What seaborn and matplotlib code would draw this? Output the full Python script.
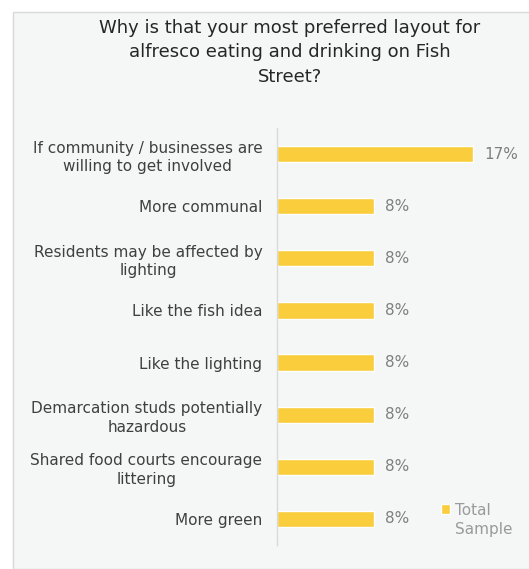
import matplotlib
matplotlib.use("Agg")
import matplotlib.pyplot as plt
import seaborn as sns
import pandas as pd
from matplotlib.patches import Rectangle

categories = [
    "If community / businesses are\nwilling to get involved",
    "More communal",
    "Residents may be affected by\nlighting",
    "Like the fish idea",
    "Like the lighting",
    "Demarcation studs potentially\nhazardous",
    "Shared food courts encourage\nlittering",
    "More green",
]
values = [16.7, 8.3, 8.3, 8.3, 8.3, 8.3, 8.3, 8.3]
series_name = "Total\nSample"
title = "Why is that your most preferred layout for\nalfresco eating and drinking on Fish\nStreet?"

sns.set_theme(style="white")
plt.rcParams['font.family'] = ['DejaVu Sans']

df = pd.DataFrame({"category": categories, "value": values, "series": series_name})

fig = plt.figure(figsize=(5.29, 5.69), dpi=100)
fig.patch.set_facecolor("white")
panel = Rectangle((13 / 529, 0), 1 - 13 / 529 + 0.01, 1 - 12 / 569, transform=fig.transFigure,
                  facecolor="#f5f6f6", edgecolor="#d9d9d9", linewidth=1.0, zorder=-10)
fig.patches.append(panel)

ax = fig.add_axes([277 / 529, 1 - 545 / 569, 1 - 277 / 529, (545 - 128) / 569])
ax.set_facecolor("none")
ax.set_zorder(5)

bar_color = "#FACD3C"
sns.barplot(data=df, y="category", x="value", hue="series", palette=[bar_color],
            orient="h", width=0.31, ax=ax, saturation=1)

for cont in ax.containers:
    ax.bar_label(cont, labels=[f"{v:.0f}%" for v in values], padding=8,
                 color="#7f7f7f", fontsize=11)

ax.set_xlim(0, 21.5)
ax.set_ylim(7.5, -0.5)
ax.set_xlabel("")
ax.set_ylabel("")
ax.set_xticks([])
ax.tick_params(axis="y", length=0, pad=10.5, labelsize=11, labelcolor="#404040")
for lbl in ax.get_yticklabels():
    lbl.set_multialignment("center")
    lbl.set_linespacing(1.3)
for s in ["top", "right", "bottom"]:
    ax.spines[s].set_visible(False)
ax.spines["left"].set_color("#d9d9d9")
ax.spines["left"].set_linewidth(1.0)

leg = ax.legend(loc="upper left", bbox_to_anchor=((441 - 277) / 252, (545 - 503) / 417),
                frameon=False, fontsize=11, handlelength=0.6, handleheight=0.6,
                handletextpad=0.3, borderaxespad=0, borderpad=0)
for t in leg.get_texts():
    t.set_color("#9a9a9a")
    t.set_linespacing(1.35)
for h in leg.legend_handles:
    h.set_y(h.get_y() + 8.5)

fig.text(290 / 529, 1 - 19 / 569, title, ha="center", va="top", fontsize=13,
         color="#262626", linespacing=1.45)

fig.savefig("out.png", dpi=100, facecolor=fig.get_facecolor())
